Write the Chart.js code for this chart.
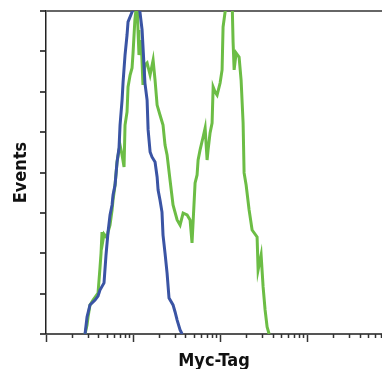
<!DOCTYPE html>
<html>
<head>
<meta charset="utf-8">
<script src="https://cdn.jsdelivr.net/npm/chart.js@4/dist/chart.umd.min.js"></script>
<style>
  html, body { margin: 0; padding: 0; background: #fff; }
  #wrap { width: 382px; height: 369px; }
</style>
</head>
<body>
<div id="wrap"><canvas id="histo" width="382" height="369"></canvas></div>
<script>
// isotype control (blue)
const blueX = [2.81, 2.96, 3.20, 3.66, 3.96, 4.17, 4.64, 4.89, 5.16, 5.44, 5.74, 5.89, 6.21, 6.55, 6.90, 7.09, 7.48, 7.68, 8.09, 8.53, 8.76, 9.74, 10.5, 11.4, 12.0, 12.7, 13.7, 14.5, 14.9, 15.7, 16.5, 17.9, 18.9, 19.4, 20.4, 21.5, 22.1, 23.3, 24.6, 25.9, 28.8, 30.4, 32.1, 34.7, 36.6];
const blueY = [0, 8.4, 14.4, 16.8, 18.8, 21.8, 25.3, 39.1, 50.5, 59.0, 63.9, 68.9, 73.8, 85.2, 92.1, 103.5, 115.9, 124.8, 138.2, 148.1, 154.6, 159.5, 163, 165, 159.5, 150.6, 124.3, 115.9, 101.1, 90.2, 87.7, 85.2, 77.8, 71.3, 66.4, 60.4, 49.0, 40.1, 30.2, 17.8, 14.4, 10.9, 6.9, 2.0, 0];

// Myc-Tag (green)
const greenX = [2.81, 2.96, 3.04, 3.20, 3.47, 3.96, 4.17, 4.29, 4.40, 4.52, 4.64, 5.02, 5.16, 5.44, 5.74, 5.89, 6.21, 6.55, 6.90, 7.09, 7.48, 7.88, 8.09, 8.53, 8.76, 9.25, 9.74, 10.0, 10.5, 11.1, 11.4, 11.7, 12.4, 13.0, 13.7, 14.5, 15.7, 17.0, 17.9, 18.9, 20.4, 22.1, 23.3, 24.6, 26.6, 28.8, 32.1, 34.7, 37.6, 41.8, 45.2, 47.6, 48.9, 51.6, 54.4, 55.9, 58.9, 63.8, 67.3, 70.9, 72.8, 76.7, 80.9, 83.2, 87.7, 92.4, 100, 105.4, 108.2, 114.1, 123.6, 137.4, 141.0, 145.0, 152.7, 165.3, 174.3, 183.8, 188.7, 199.1, 215.5, 233.2, 266.1, 273.3, 295.9, 312.0, 328.9, 346.8, 365.7];
const greenY = [0, 4.5, 8.4, 14.4, 16.8, 20.3, 32.7, 40.1, 50.5, 46.6, 49.5, 47.6, 50.5, 54.0, 61.4, 66.4, 73.8, 85.2, 91.2, 93.6, 88.7, 82.7, 103.5, 110.0, 122.4, 128.3, 131.8, 139.2, 155.6, 165, 150.6, 138.2, 145.6, 123.4, 133.3, 134.3, 128.3, 135.7, 125.8, 113.4, 108.5, 103.5, 93.6, 88.7, 76.3, 63.9, 56.5, 54.0, 59.9, 59.0, 56.5, 45.1, 55.0, 74.8, 78.8, 86.2, 91.2, 97.6, 102.0, 86.2, 91.2, 99.6, 104.5, 122.4, 119.9, 118.4, 124.3, 130.8, 152.1, 159.5, 165, 165, 144.6, 130.8, 139.2, 137.2, 125.8, 104.5, 79.8, 73.8, 61.4, 51.5, 48.1, 31.7, 39.1, 23.3, 11.9, 3.5, 0];

const xMajorTicks = [1, 10, 100, 1000];
const xMin = 1, xMax = 7244;
const yMax = 160, yStep = 20;

const titleFont = { family: "'Liberation Sans Narrow', 'DejaVu Sans Condensed', sans-serif", size: 18, weight: 'bold', lineHeight: 1 };

function toPoints(xs, ys) {
  return xs.map((x, i) => ({ x: x, y: ys[i] }));
}

// short minor ticks on the log axis
const minorTicks = {
  id: 'minorTicks',
  afterDraw(chart) {
    const xs = chart.scales.x;
    const ctx = chart.ctx;
    ctx.save();
    ctx.strokeStyle = '#333';
    ctx.lineWidth = 1.5;
    for (const d of xMajorTicks) {
      for (let m = 2; m <= 9; m++) {
        const v = d * m;
        if (v > xMax) continue;
        const px = Math.round(xs.getPixelForValue(v)) + 0.5;
        ctx.beginPath();
        ctx.moveTo(px, xs.top);
        ctx.lineTo(px, xs.top + 4);
        ctx.stroke();
      }
    }
    ctx.restore();
  }
};

new Chart(document.getElementById('histo'), {
  type: 'line',
  data: {
    datasets: [
      { data: toPoints(blueX, blueY), borderColor: '#3a54a4', borderWidth: 3, pointRadius: 0, tension: 0, fill: false },
      { data: toPoints(greenX, greenY), borderColor: '#6cbd45', borderWidth: 3, pointRadius: 0, tension: 0, fill: false }
    ]
  },
  options: {
    responsive: false,
    animation: false,
    layout: { padding: { left: 0, top: 11, right: 0, bottom: 0 } },
    plugins: { legend: { display: false }, tooltip: { enabled: false } },
    scales: {
      x: {
        type: 'logarithmic',
        min: xMin,
        max: xMax,
        afterBuildTicks: (scale) => { scale.ticks = xMajorTicks.map(v => ({ value: v })); },
        ticks: { display: false },
        grid: { drawOnChartArea: false, drawTicks: true, tickLength: 8, tickColor: '#333', tickWidth: 1.5 },
        border: { display: true, color: '#555', width: 2 },
        title: { display: true, text: 'Myc-Tag', color: '#111', font: titleFont, padding: { top: 10, bottom: -1 } }
      },
      y: {
        min: 0,
        max: yMax,
        ticks: { display: false, stepSize: yStep },
        grid: {
          drawOnChartArea: true,
          drawTicks: true,
          tickLength: 6,
          tickColor: '#111',
          tickWidth: 1.5,
          color: (c) => (c.tick && c.tick.value === yMax) ? '#666' : 'rgba(0,0,0,0)',
          lineWidth: (c) => (c.tick && c.tick.value === yMax) ? 2 : 0
        },
        border: { display: true, color: '#222', width: 1.5 },
        title: { display: true, text: 'Events', color: '#111', font: titleFont, padding: { top: 12, bottom: 10 } }
      }
    }
  },
  plugins: [minorTicks]
});
</script>
</body>
</html>
